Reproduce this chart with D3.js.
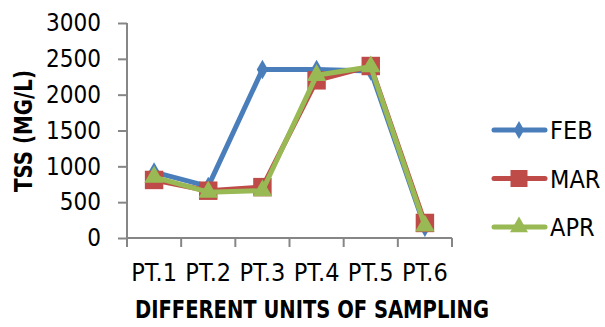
<!doctype html>
<html>
<head>
<style>
  body { margin: 0; background: #fff; }
  text { font-family: "Liberation Sans Narrow", "DejaVu Sans Condensed", "Liberation Sans", sans-serif; fill: #000; }
</style>
<script src="https://d3js.org/d3.v7.min.js"></script>
</head>
<body>
<svg width="605" height="327"></svg>
<script>
var categories = ["PT.1", "PT.2", "PT.3", "PT.4", "PT.5", "PT.6"];
var feb = [920, 720, 2350, 2350, 2330, 150];
var mar = [810, 660, 710, 2200, 2400, 210];
var apr = [850, 640, 660, 2270, 2390, 170];
var yTicks = [0, 500, 1000, 1500, 2000, 2500, 3000];

var series = [
  { name: "FEB", values: feb, color: "#4A7EBB", shape: d3.symbolDiamond, size: 110 },
  { name: "MAR", values: mar, color: "#BE4B48", shape: d3.symbolSquare, size: 340 },
  { name: "APR", values: apr, color: "#98B954", shape: d3.symbolTriangle, size: 165 }
];

var svg = d3.select("svg");
var plotL = 127, plotR = 452, plotT = 23, plotB = 238;

var x = d3.scaleBand().domain(categories).range([plotL, plotR]);
var y = d3.scaleLinear().domain([0, 3000]).range([plotB, plotT]);

// y axis
var yAxis = svg.append("g")
  .attr("transform", "translate(" + plotL + ",0)")
  .call(d3.axisLeft(y).tickValues(yTicks).tickFormat(d3.format("d")).tickSize(9).tickPadding(17));
// x axis
var xAxis = svg.append("g")
  .attr("transform", "translate(0," + plotB + ")")
  .call(d3.axisBottom(x).tickSize(0).tickPadding(25));

// category boundary ticks
xAxis.selectAll(".bound")
  .data(d3.range(categories.length + 1))
  .enter().append("line")
  .attr("class", "bound")
  .attr("x1", function(i) { return plotL + i * x.bandwidth(); })
  .attr("x2", function(i) { return plotL + i * x.bandwidth(); })
  .attr("y1", 0).attr("y2", 9);

yAxis.select(".domain").attr("d", "M0," + plotT + "V" + plotB);
xAxis.select(".domain").attr("d", "M" + plotL + ",0H" + plotR);
svg.selectAll(".domain").attr("stroke", "#868686").attr("stroke-width", 2);
svg.selectAll(".tick line, .bound").attr("stroke", "#868686").attr("stroke-width", 2);
svg.selectAll(".tick text").attr("fill", "#000")
  .style("font-family", "'Liberation Sans Narrow', 'DejaVu Sans Condensed', sans-serif");
yAxis.selectAll(".tick text").attr("font-size", 24);
xAxis.selectAll(".tick text").attr("font-size", 25);

// lines
var line = d3.line()
  .x(function(d, i) { return x(categories[i]) + x.bandwidth() / 2; })
  .y(function(d) { return y(d); });

series.forEach(function(s) {
  var g = svg.append("g");
  g.append("path")
    .attr("d", line(s.values))
    .attr("fill", "none")
    .attr("stroke", s.color)
    .attr("stroke-width", 5)
    .attr("stroke-linejoin", "round");
  g.selectAll("path.m")
    .data(s.values)
    .enter().append("path")
    .attr("class", "m")
    .attr("d", d3.symbol().type(s.shape).size(s.size))
    .attr("transform", function(d, i) {
      return "translate(" + (x(categories[i]) + x.bandwidth() / 2) + "," + y(d) + ")";
    })
    .attr("fill", s.color);
});

// legend
var legend = svg.append("g");
series.forEach(function(s, i) {
  var ly = 130 + i * 48.5;
  legend.append("line")
    .attr("x1", 494).attr("x2", 545).attr("y1", ly).attr("y2", ly)
    .attr("stroke", s.color).attr("stroke-width", 5).attr("stroke-linecap", "round");
  legend.append("path")
    .attr("d", d3.symbol().type(s.shape).size(s.size * 0.85))
    .attr("transform", "translate(519," + ly + ")")
    .attr("fill", s.color);
  legend.append("text")
    .attr("x", 550).attr("y", ly + 9)
    .attr("font-size", 25)
    .text(s.name);
});

// axis titles
svg.append("text")
  .attr("x", 312).attr("y", 318)
  .attr("text-anchor", "middle")
  .attr("font-size", 24).attr("font-weight", "bold")
  .attr("textLength", 354).attr("lengthAdjust", "spacingAndGlyphs")
  .text("DIFFERENT UNITS OF SAMPLING");

svg.append("text")
  .attr("transform", "translate(32,131) rotate(-90)")
  .attr("text-anchor", "middle")
  .attr("font-size", 24).attr("font-weight", "bold")
  .attr("textLength", 122).attr("lengthAdjust", "spacingAndGlyphs")
  .text("TSS (MG/L)");
</script>
</body>
</html>
